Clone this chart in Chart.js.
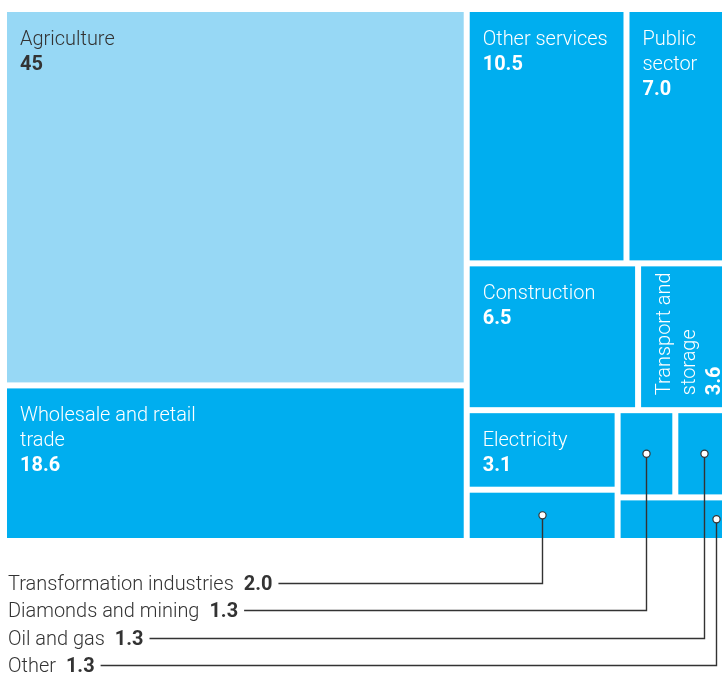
<!DOCTYPE html>
<html><head><meta charset="utf-8">
<script src="https://cdn.jsdelivr.net/npm/chart.js@4"></script>
<style>
html,body{margin:0;padding:0;background:#fff;overflow:hidden;}
#wrap{width:740px;height:675px;position:relative;}
</style></head><body>
<div id="wrap"><canvas id="c" width="740" height="675"></canvas></div>
<script>
// ---- data ----
const categories = ['Agriculture','Wholesale and retail trade','Other services','Public sector','Construction','Transport and storage','Electricity','Transformation industries','Diamonds and mining','Oil and gas','Other'];
const values = [45, 18.6, 10.5, 7.0, 6.5, 3.6, 3.1, 2.0, 1.3, 1.3, 1.3];
const valueLabels = ['45','18.6','10.5','7.0','6.5','3.6','3.1','2.0','1.3','1.3','1.3'];
const labelLines = [['Agriculture'],['Wholesale and retail','trade'],['Other services'],['Public','sector'],['Construction'],['Transport and','storage'],['Electricity'],[],[],[],[]];
const calloutItems = [7, 8, 9, 10];
// nesting of the treemap (row = side by side, col = stacked)
const layoutTree = ['row', ['col', 0, 1], ['col', ['row', 2, 3], ['col', ['row', 4, 5], ['row', ['col', 6, 7], ['col', ['row', 8, 9], 10]]]]];

// ---- style ----
const FONT = 'Roboto';
const SX = 0.95;              // horizontal condense factor
const FS = 21;
const GAP = 6;
const colorFor = i => i === 0 ? '#97d8f5' : '#00aeef';
const textColorFor = i => i === 0 ? '#333333' : '#ffffff';
const rotated = new Set([5]);
const anchorFrac = {7:[0.5,0.5], 8:[0.5,0.5], 9:[0.5,0.5], 10:[0.87,0.5]};

function sumNode(n){ return typeof n === 'number' ? values[n] : n.slice(1).reduce((s,c)=>s+sumNode(c),0); }
function layout(n, x0, y0, x1, y1, out){
  if (typeof n === 'number'){ out[n] = {x0,y0,x1,y1}; return; }
  const tot = sumNode(n); let pos = n[0]==='row' ? x0 : y0;
  n.slice(1).forEach(c => {
    const f = sumNode(c)/tot;
    if (n[0]==='row'){ const w=(x1-x0)*f; layout(c,pos,y0,pos+w,y1,out); pos+=w; }
    else { const h=(y1-y0)*f; layout(c,x0,pos,x1,pos+h,out); pos+=h; }
  });
}
const rects = []; layout(layoutTree, 0, 0, 1, 1, rects);

function txt(ctx, s, x, y, weight){
  ctx.save(); ctx.font = weight + ' ' + FS + 'px ' + FONT;
  ctx.translate(x, y); ctx.scale(SX, 1); ctx.fillText(s, 0, 0);
  const w = ctx.measureText(s).width * SX; ctx.restore(); return w;
}

const treemapPlugin = {
  id: 'treemap',
  afterDatasetsDraw(chart){
    const ctx = chart.ctx, xs = chart.scales.x, ys = chart.scales.y;
    const px = rects.map(r => ({
      l: xs.getPixelForValue(r.x0) + GAP/2, r: xs.getPixelForValue(r.x1) - GAP/2,
      t: ys.getPixelForValue(r.y0) + GAP/2, b: ys.getPixelForValue(r.y1) - GAP/2 }));
    ctx.save();
    ctx.textBaseline = 'alphabetic'; ctx.textAlign = 'left';
    px.forEach((p, i) => {
      ctx.fillStyle = colorFor(i);
      ctx.fillRect(p.l, p.t, p.r - p.l, p.b - p.t);
      const lines = labelLines[i];
      if (!lines.length) return;
      ctx.save();
      ctx.fillStyle = textColorFor(i);
      if (rotated.has(i)) { ctx.translate(p.l - 4, p.b + 1); ctx.rotate(-Math.PI/2); }
      else ctx.translate(p.l, p.t);
      lines.forEach((ln, k) => txt(ctx, ln, 13, 33 + k*25, '300'));
      txt(ctx, valueLabels[i], 13, 33 + lines.length*25, '700');
      ctx.restore();
    });
    // callouts
    const base = chart.chartArea.bottom + 49;
    calloutItems.forEach((i, k) => {
      const y = base + k*27.3;
      ctx.fillStyle = '#333333';
      let x = 8;
      x += txt(ctx, categories[i], x, y, '300') + 10;
      x += txt(ctx, valueLabels[i], x, y, '700') + 6;
      const p = px[i], fr = anchorFrac[i];
      const ax = Math.round(p.l + (p.r - p.l)*fr[0]) + 0.5, ay = p.t + (p.b - p.t)*fr[1];
      const ly = Math.round(y - 7) + 0.5;
      ctx.strokeStyle = '#333333'; ctx.lineWidth = 1.4;
      ctx.beginPath(); ctx.moveTo(x, ly); ctx.lineTo(ax, ly); ctx.lineTo(ax, ay); ctx.stroke();
      ctx.beginPath(); ctx.arc(ax, ay, 3.6, 0, Math.PI*2);
      ctx.fillStyle = '#ffffff'; ctx.fill(); ctx.lineWidth = 1.2; ctx.stroke();
    });
    ctx.restore();
  }
};

new Chart(document.getElementById('c').getContext('2d'), {
  type: 'scatter',
  data: { datasets: [{ label: 'Share', data: rects.map((r,i)=>({x:(r.x0+r.x1)/2, y:(r.y0+r.y1)/2, v: values[i]})), pointRadius: 0 }] },
  options: {
    responsive: false, animation: false, events: [],
    layout: { padding: { left: 4, right: 7, top: 9, bottom: 134 } },
    scales: {
      x: { type: 'linear', min: 0, max: 1, display: false },
      y: { type: 'linear', min: 0, max: 1, reverse: true, display: false }
    },
    plugins: { legend: { display: false }, tooltip: { enabled: false } }
  },
  plugins: [treemapPlugin]
});
</script>
</body></html>
